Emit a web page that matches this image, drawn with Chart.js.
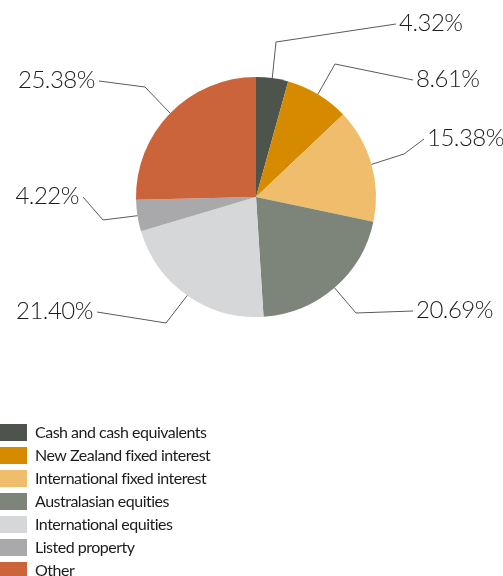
<!DOCTYPE html>
<html>
<head>
<meta charset="utf-8">
<script src="https://cdn.jsdelivr.net/npm/chart.js@4"></script>
<style>
  html, body { margin: 0; padding: 0; background: #ffffff; }
  #wrap { width: 503px; height: 576px; position: relative; }
</style>
</head>
<body>
<div id="wrap"><canvas id="chartPie"></canvas></div>
<script>
// === Data ===
const categories = [
    'Cash and cash equivalents',
    'New Zealand fixed interest',
    'International fixed interest',
    'Australasian equities',
    'International equities',
    'Listed property',
    'Other'
];
const shares = [4.32, 8.61, 15.38, 20.69, 21.40, 4.22, 25.38];
const sliceColors = ['#4d544b', '#d68a00', '#efbd6b', '#7d857b', '#d6d7d9', '#a9a9ab', '#cc643b'];

// leader line layout: elbow point and label anchor, side the text hangs from
const labelLayout = [
    { elbow: [276, 42],  end: [396, 24],  side: 'left' },
    { elbow: [335, 64],  end: [413, 80],  side: 'left' },
    { elbow: [404, 154], end: [424, 139], side: 'left' },
    { elbow: [356, 313], end: [413, 311], side: 'left' },
    { elbow: [166, 323], end: [97, 312],  side: 'right' },
    { elbow: [103, 220], end: [83, 197],  side: 'right' },
    { elbow: [145, 87],  end: [99, 81],   side: 'right' }
];

const FONT = 'Lato, "Open Sans", sans-serif';

// === Plugins ===
const leaderLabels = {
    id: 'leaderLabels',
    afterDatasetsDraw(chart) {
        const { ctx } = chart;
        const arcs = chart.getDatasetMeta(0).data;
        ctx.save();
        arcs.forEach((arc, i) => {
            const { x, y, startAngle, endAngle, outerRadius } = arc.getProps(['x', 'y', 'startAngle', 'endAngle', 'outerRadius'], true);
            const mid = (startAngle + endAngle) / 2;
            const ax = x + Math.cos(mid) * outerRadius;
            const ay = y + Math.sin(mid) * outerRadius;
            const lay = labelLayout[i];

            ctx.strokeStyle = '#5a5a5a';
            ctx.lineWidth = 1;
            ctx.beginPath();
            ctx.moveTo(ax, ay);
            ctx.lineTo(lay.elbow[0], lay.elbow[1]);
            ctx.lineTo(lay.end[0], lay.end[1]);
            ctx.stroke();

            ctx.fillStyle = '#1c1c1c';
            ctx.font = '300 24px ' + FONT;
            ctx.letterSpacing = '-0.5px';
            ctx.textBaseline = 'middle';
            const txt = shares[i].toFixed(2) + '%';
            if (lay.side === 'left') {
                ctx.textAlign = 'left';
                ctx.fillText(txt, lay.end[0] + 3, lay.end[1] - 1);
            } else {
                ctx.textAlign = 'right';
                ctx.fillText(txt, lay.end[0] - 4, lay.end[1] - 1);
            }
        });
        ctx.restore();
    }
};

const stackedLegend = {
    id: 'stackedLegend',
    afterDraw(chart) {
        const { ctx } = chart;
        const top = 424, step = 23, boxW = 27, boxH = 17;
        ctx.save();
        ctx.font = '16px ' + FONT;
        ctx.letterSpacing = '-0.5px';
        ctx.textAlign = 'left';
        ctx.textBaseline = 'middle';
        chart.data.labels.forEach((label, i) => {
            const y = top + i * step;
            ctx.fillStyle = sliceColors[i];
            ctx.fillRect(0, y, boxW, boxH);
            ctx.fillStyle = '#1c1c1c';
            ctx.fillText(label, 35, y + boxH / 2);
        });
        ctx.restore();
    }
};

// === Chart ===
new Chart(document.getElementById('chartPie').getContext('2d'), {
    type: 'pie',
    data: {
        labels: categories,
        datasets: [{
            data: shares,
            backgroundColor: sliceColors,
            borderWidth: 0
        }]
    },
    options: {
        responsive: true,
        maintainAspectRatio: false,
        animation: false,
        radius: 120,
        layout: { padding: { left: 9, right: 0, top: 0, bottom: 182 } },
        plugins: {
            legend: { display: false },
            tooltip: { enabled: false }
        }
    },
    plugins: [leaderLabels, stackedLegend]
});
</script>
</body>
</html>
